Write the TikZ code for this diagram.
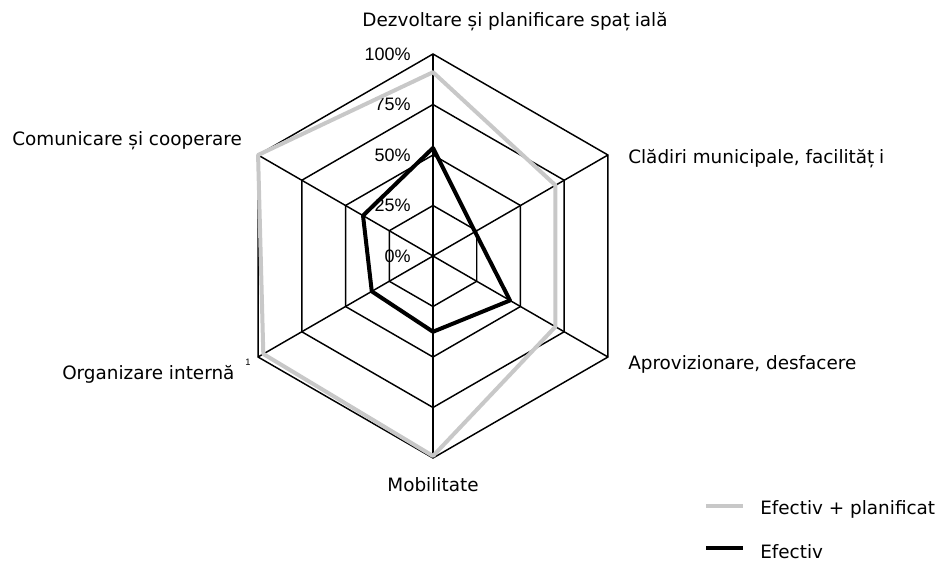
\documentclass[tikz,border=0pt]{standalone}
\usepackage{fontspec}
\setmainfont{DejaVu Sans}
\newfontfamily\pctfont{Liberation Sans}
\usetikzlibrary{calc}
\definecolor{plangray}{RGB}{200,200,200}
\begin{document}
\begin{tikzpicture}[x=0.75pt,y=-0.75pt,
  gridline/.style={black,line width=1.1pt,line join=miter},
  planned/.style={plangray,line width=3pt,line join=round},
  actual/.style={black,line width=3pt,line join=round},
  axislabel/.style={inner sep=0pt,anchor=base west,font=\fontsize{13.8}{16}\selectfont},
  pctlabel/.style={inner sep=0pt,anchor=east,font=\pctfont\fontsize{13.5}{15}\selectfont},
  legendtext/.style={inner sep=0pt,anchor=base west,font=\fontsize{13.8}{16}\selectfont}]
\useasboundingbox (0,0) rectangle (938,565);

% centre of the radar and its radius (100 %)
\coordinate (C) at (433,256);
\def\R{202}

% axes (angles measured with y pointing down)
\foreach \a in {-90,-30,30,90,150,210}
  \draw[gridline] (C) -- ++(\a:\R);

% rings at 25, 50, 75 and 100 %
\foreach \f in {0.25,0.5,0.75,1}
  \draw[gridline] ($(C)+(-90:{\R*\f})$)
    \foreach \a in {-30,30,90,150,210} { -- ($(C)+(\a:{\R*\f})$) } -- cycle;

% percentage scale
\foreach \k/\t in {0/0\%,1/25\%,2/50\%,3/75\%,4/100\%}
  \node[pctlabel] (p\k) at (411,{256-50.5*\k}) {\t};

% series: actual + planned
\draw[planned]
  ($(C)+(-90:{\R*0.91})$) -- ($(C)+(-30:{\R*0.70})$) -- ($(C)+(30:{\R*0.70})$)
  -- ($(C)+(90:{\R*0.99})$) -- ($(C)+(150:{\R*0.97})$) -- ($(C)+(210:{\R*1.0})$) -- cycle;

% series: actual
\draw[actual]
  ($(C)+(-90:{\R*0.535})$) -- ($(C)+(-30:{\R*0.24})$) -- ($(C)+(30:{\R*0.44})$)
  -- ($(C)+(90:{\R*0.375})$) -- ($(C)+(150:{\R*0.35})$) -- ($(C)+(210:{\R*0.40})$) -- cycle;

% category labels
\node[axislabel,anchor=base] (dez) at (515,26) {Dezvoltare și planificare spaț\hspace{0.25em}ială};
\node[axislabel] (cla) at (628,163) {Clădiri municipale, facilităț\hspace{0.25em}i};
\node[axislabel] (apr) at (628,369) {Aprovizionare, desfacere};
\node[axislabel,anchor=base] (mob) at (433,491) {Mobilitate};
\node[axislabel] (org) at (62,379) {Organizare internă};
\node[axislabel] (com) at (12,145) {Comunicare și cooperare};
\node[inner sep=0pt,font=\pctfont\fontsize{7}{8}\selectfont] (tick) at (248,362) {1};

% legend
\coordinate (l1a) at (706,506); \coordinate (l1b) at (743,506);
\coordinate (l2a) at (706,548); \coordinate (l2b) at (743,548);
\draw[planned] (l1a) -- (l1b);
\draw[actual] (l2a) -- (l2b);
\node[legendtext] (leg1) at (760,514) {Efectiv + planificat};
\node[legendtext] (leg2) at (760,558) {Efectiv};
\end{tikzpicture}
\end{document}
